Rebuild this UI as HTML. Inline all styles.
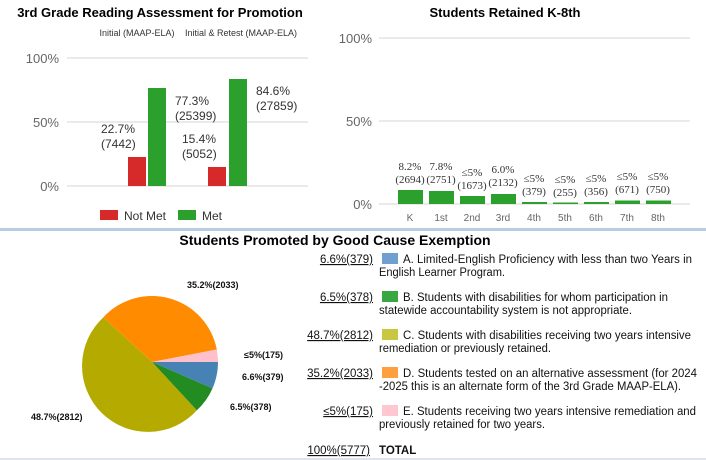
<!DOCTYPE html>
<html><head><meta charset="utf-8"><style>
body{margin:0;background:#fff;}
svg{display:block;}
</style></head><body>
<svg width="706" height="460" xmlns="http://www.w3.org/2000/svg" font-family="Liberation Sans, sans-serif">
<rect width="706" height="460" fill="#fff"/>
<!-- Left chart -->
<text x="160" y="17" font-size="13" font-weight="bold" text-anchor="middle" fill="#000">3rd Grade Reading Assessment for Promotion</text>
<text x="137" y="36" font-size="9" text-anchor="middle" fill="#333">Initial (MAAP-ELA)</text>
<text x="241" y="36" font-size="9" text-anchor="middle" fill="#333">Initial &amp; Retest (MAAP-ELA)</text>
<g stroke="#ddd" stroke-width="1.2">
<line x1="67" y1="58" x2="308" y2="58"/><line x1="67" y1="122" x2="308" y2="122"/><line x1="67" y1="186" x2="308" y2="186"/>
</g>
<g font-size="13" fill="#666" text-anchor="end">
<text x="59" y="63">100%</text><text x="59" y="127">50%</text><text x="59" y="191">0%</text>
</g>
<rect x="128" y="157" width="18" height="29" fill="#d62a2a"/>
<rect x="148" y="88" width="18" height="98" fill="#2ca02c"/>
<rect x="208" y="167" width="18" height="19" fill="#d62a2a"/>
<rect x="229" y="79" width="18" height="107" fill="#2ca02c"/>
<g font-size="12" fill="#333">
<text x="101" y="133">22.7%</text><text x="101" y="148">(7442)</text>
<text x="175" y="105">77.3%</text><text x="175" y="120">(25399)</text>
<text x="182" y="143">15.4%</text><text x="182" y="158">(5052)</text>
<text x="256" y="95">84.6%</text><text x="256" y="110">(27859)</text>
</g>
<rect x="100" y="210" width="18" height="10" fill="#d62a2a"/>
<text x="124" y="220" font-size="12" fill="#333">Not Met</text>
<rect x="178" y="210" width="18" height="10" fill="#2ca02c"/>
<text x="202" y="220" font-size="12" fill="#333">Met</text>

<!-- Right chart -->
<text x="505" y="17" font-size="13" font-weight="bold" text-anchor="middle" fill="#000">Students Retained K-8th</text>
<g stroke="#ddd" stroke-width="1.2">
<line x1="379" y1="38" x2="690" y2="38"/><line x1="379" y1="121" x2="690" y2="121"/><line x1="379" y1="204" x2="690" y2="204"/>
</g>
<g font-size="13" fill="#666" text-anchor="end">
<text x="372" y="43">100%</text><text x="372" y="126">50%</text><text x="372" y="209">0%</text>
</g>
<g fill="#2ca02c">
<rect x="398" y="190" width="25" height="14"/>
<rect x="429" y="191" width="25" height="13"/>
<rect x="460" y="196" width="25" height="8"/>
<rect x="491" y="194" width="25" height="10"/>
<rect x="522" y="202" width="25" height="2"/>
<rect x="553" y="202.5" width="25" height="1.5"/>
<rect x="584" y="202" width="25" height="2"/>
<rect x="615" y="200.5" width="25" height="3.5"/>
<rect x="646" y="200.5" width="25" height="3.5"/>
</g>
<g font-size="11" fill="#333" text-anchor="middle" font-family="Liberation Serif, serif">
<text x="410" y="170">8.2%</text><text x="410" y="183">(2694)</text>
<text x="441" y="170">7.8%</text><text x="441" y="183">(2751)</text>
<text x="472" y="176">≤5%</text><text x="472" y="189">(1673)</text>
<text x="503" y="173">6.0%</text><text x="503" y="186">(2132)</text>
<text x="534" y="182">≤5%</text><text x="534" y="195">(379)</text>
<text x="565" y="183">≤5%</text><text x="565" y="196">(255)</text>
<text x="596" y="182">≤5%</text><text x="596" y="195">(356)</text>
<text x="627" y="180">≤5%</text><text x="627" y="193">(671)</text>
<text x="658" y="180">≤5%</text><text x="658" y="193">(750)</text>
</g>
<g font-size="10" fill="#666" text-anchor="middle">
<text x="410" y="221">K</text><text x="441" y="221">1st</text><text x="472" y="221">2nd</text><text x="503" y="221">3rd</text><text x="534" y="221">4th</text><text x="565" y="221">5th</text><text x="596" y="221">6th</text><text x="627" y="221">7th</text><text x="658" y="221">8th</text>
</g>

<rect x="0" y="228" width="706" height="3" fill="#b8cce4"/>

<!-- Bottom -->
<text x="335" y="245" font-size="14" font-weight="bold" text-anchor="middle" fill="#000">Students Promoted by Good Cause Exemption</text>
<path d="M152,362 L218,362 A66,66 0 0 1 212.5,388.4 Z" fill="#4682b4"/>
<path d="M152,362 L212.5,388.4 A66,66 0 0 1 196.8,410.4 Z" fill="#228b22"/>
<path d="M152,362 L196.8,410.4 A66,66 0 1 1 103.3,317.4 Z" fill="#b5ab00"/>
<path d="M152,362 L103.3,317.4 A66,66 0 0 1 216.8,349.5 Z" fill="#ff8c00"/>
<path d="M152,362 L216.8,349.5 A66,66 0 0 1 218,362 Z" fill="#ffc0cb"/>
<g font-size="9" font-weight="bold" fill="#111">
<text x="187" y="288">35.2%(2033)</text>
<text x="244" y="358">≤5%(175)</text>
<text x="242" y="380">6.6%(379)</text>
<text x="230" y="410">6.5%(378)</text>
<text x="31" y="420">48.7%(2812)</text>
</g>
<g font-size="11.5" fill="#111">
<g text-anchor="end" text-decoration="underline">
<text x="373" y="263">6.6%(379)</text>
<text x="373" y="301">6.5%(378)</text>
<text x="373" y="339">48.7%(2812)</text>
<text x="373" y="377">35.2%(2033)</text>
<text x="373" y="415">≤5%(175)</text>
<text x="370" y="454">100%(5777)</text>
</g>
<rect x="382" y="253" width="16" height="11" fill="#6fa0d0"/>
<rect x="382" y="291" width="16" height="11" fill="#3aa840"/>
<rect x="382" y="329" width="16" height="11" fill="#c8c840"/>
<rect x="382" y="367" width="16" height="11" fill="#ffa040"/>
<rect x="382" y="405" width="16" height="11" fill="#ffc8d0"/>
<text x="403" y="263" textLength="289" lengthAdjust="spacingAndGlyphs">A.  Limited-English Proficiency with less than two Years in</text>
<text x="379" y="276" textLength="126" lengthAdjust="spacingAndGlyphs">English Learner Program.</text>
<text x="403" y="301" textLength="265" lengthAdjust="spacingAndGlyphs">B.  Students with disabilities for whom participation in</text>
<text x="379" y="314" textLength="253" lengthAdjust="spacingAndGlyphs">statewide accountability system is not appropriate.</text>
<text x="403" y="339" textLength="288" lengthAdjust="spacingAndGlyphs">C.  Students with disabilities receiving two years intensive</text>
<text x="379" y="352" textLength="172" lengthAdjust="spacingAndGlyphs">remediation or previously retained.</text>
<text x="403" y="377" textLength="294" lengthAdjust="spacingAndGlyphs">D.  Students tested on an alternative assessment (for 2024</text>
<text x="379" y="390" textLength="302" lengthAdjust="spacingAndGlyphs">-2025 this is an alternate form of the 3rd Grade MAAP-ELA).</text>
<text x="403" y="415" textLength="293" lengthAdjust="spacingAndGlyphs">E.  Students receiving two years intensive remediation and</text>
<text x="379" y="428" textLength="166" lengthAdjust="spacingAndGlyphs">previously retained for two years.</text>
<text x="379" y="454" font-weight="bold">TOTAL</text>
</g>
<rect x="0" y="458" width="706" height="2" fill="#dde4ee"/>
</svg>
</body></html>
